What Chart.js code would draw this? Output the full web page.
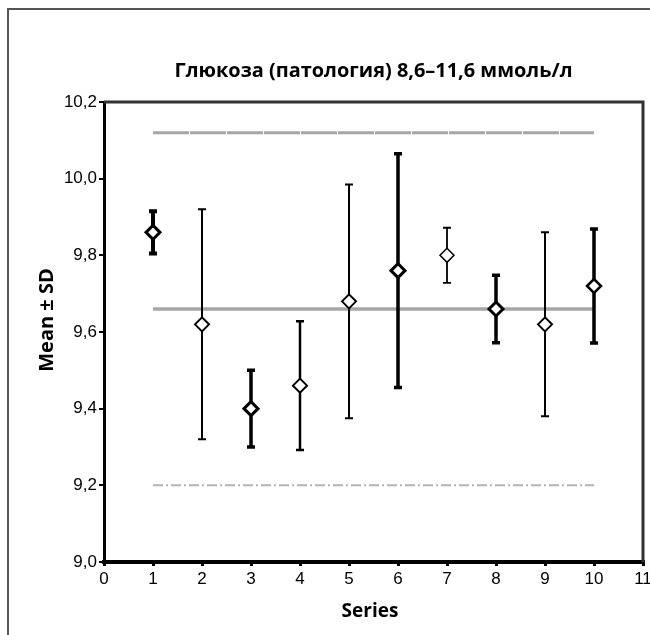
<!DOCTYPE html>
<html>
<head>
<meta charset="utf-8">
<script src="https://cdn.jsdelivr.net/npm/chart.js@4"></script>
<style>
  html, body { margin: 0; padding: 0; background: #fff; overflow: hidden; }
  #wrap { width: 650px; height: 635px; overflow: hidden; }
</style>
</head>
<body>
<div id="wrap"><canvas id="chart" width="700" height="700"></canvas></div>
<script>
// данные
const series = [1, 2, 3, 4, 5, 6, 7, 8, 9, 10];
const means = [9.86, 9.62, 9.40, 9.46, 9.68, 9.76, 9.80, 9.66, 9.62, 9.72];
const sds = [0.055, 0.30, 0.10, 0.168, 0.305, 0.305, 0.072, 0.088, 0.24, 0.149];
const refRange = [1, 10];
const refMean = 9.66;
const refUpper = 10.12;
const refLower = 9.2;
const yTicks = [9.0, 9.2, 9.4, 9.6, 9.8, 10.0, 10.2];

// стили отдельно от данных
const barWidths = [4, 2, 3.5, 2.5, 2, 3.5, 1.8, 3.5, 2, 3.5];
const markerBorders = [3, 2, 3, 2, 2, 3, 1.5, 3, 2, 2.5];

const fmt = v => v.toFixed(1).replace('.', ',');

function refLine(y) {
  return refRange.map(x => ({ x: x, y: y }));
}

// усы ±SD под маркерами
const errorBars = {
  id: 'errorBars',
  beforeDatasetDraw(chart, args) {
    if (args.index !== 0) return;
    const ctx = chart.ctx;
    const xs = chart.scales.x, ys = chart.scales.y;
    ctx.save();
    ctx.strokeStyle = '#000';
    series.forEach((s, i) => {
      const px = xs.getPixelForValue(s);
      const top = ys.getPixelForValue(means[i] + sds[i]);
      const bot = ys.getPixelForValue(means[i] - sds[i]);
      ctx.lineWidth = barWidths[i];
      ctx.beginPath();
      ctx.moveTo(px, top); ctx.lineTo(px, bot);
      ctx.moveTo(px - 4, top); ctx.lineTo(px + 4, top);
      ctx.moveTo(px - 4, bot); ctx.lineTo(px + 4, bot);
      ctx.stroke();
    });
    ctx.restore();
  }
};

// рамка, верх/правая граница области и подписи
const decor = {
  id: 'decor',
  beforeDraw(chart) {
    const ctx = chart.ctx;
    ctx.save();
    ctx.strokeStyle = '#555';
    ctx.lineWidth = 2;
    ctx.strokeRect(8, 9, 800, 800);
    ctx.restore();
  },
  afterDraw(chart) {
    const ctx = chart.ctx;
    const a = chart.chartArea;
    ctx.save();
    ctx.strokeStyle = '#333';
    ctx.lineWidth = 3;
    ctx.beginPath();
    ctx.moveTo(a.left, a.top); ctx.lineTo(a.right + 1.5, a.top);
    ctx.moveTo(a.right, a.top); ctx.lineTo(a.right, a.bottom);
    ctx.stroke();

    ctx.fillStyle = '#000';
    ctx.textBaseline = 'alphabetic';
    ctx.textAlign = 'center';
    const cx = (a.left + a.right) / 2;

    // заголовок
    const title = 'Глюкоза (патология) 8,6–11,6 ммоль/л';
    ctx.font = 'bold 20px "Open Sans"';
    const w = ctx.measureText(title).width;
    ctx.save();
    ctx.translate(cx, 77);
    ctx.scale(Math.min(1, 398 / w), 1);
    ctx.fillText(title, 0, 0);
    ctx.restore();

    ctx.font = 'bold 19px "Open Sans"';
    ctx.fillText('Series', 370, 617);

    ctx.save();
    ctx.font = 'bold 20px "Open Sans"';
    ctx.translate(53, 320);
    ctx.rotate(-Math.PI / 2);
    ctx.fillText('Mean ± SD', 0, 0);
    ctx.restore();
    ctx.restore();
  }
};

new Chart(document.getElementById('chart'), {
  type: 'scatter',
  data: {
    datasets: [
      {
        label: 'Mean',
        data: series.map((s, i) => ({ x: s, y: means[i] })),
        pointStyle: 'rectRot',
        pointRadius: 7,
        pointBackgroundColor: '#fff',
        pointBorderColor: '#000',
        pointBorderWidth: markerBorders
      },
      {
        type: 'line',
        label: 'upper',
        data: refLine(refUpper),
        borderColor: '#a6a6a6',
        borderWidth: 3,
        borderDash: [36, 1],
        pointRadius: 0
      },
      {
        type: 'line',
        label: 'mean',
        data: refLine(refMean),
        borderColor: '#a6a6a6',
        borderWidth: 3.5,
        pointRadius: 0
      },
      {
        type: 'line',
        label: 'lower',
        data: refLine(refLower),
        borderColor: '#b4b4b4',
        borderWidth: 2,
        borderDash: [10, 3, 2, 3],
        pointRadius: 0
      }
    ]
  },
  options: {
    responsive: false,
    animation: false,
    devicePixelRatio: 1,
    layout: { padding: { top: 102, right: 57, bottom: 0, left: 0 } },
    plugins: { legend: { display: false }, tooltip: { enabled: false } },
    scales: {
      x: {
        type: 'linear',
        min: 0, max: 11,
        ticks: { stepSize: 1, color: '#000', padding: 3, font: { family: '"Liberation Sans"', size: 17 } },
        grid: { drawOnChartArea: false, drawTicks: true, tickLength: 4, color: '#000', lineWidth: 3 },
        border: { color: '#000', width: 4 },
        afterFit(scale) { scale.height = 138; }
      },
      y: {
        type: 'linear',
        min: 9.0, max: 10.2,
        afterBuildTicks(scale) { scale.ticks = yTicks.map(v => ({ value: v })); },
        ticks: { color: '#000', padding: 2, font: { family: '"Liberation Sans"', size: 17 }, callback: v => fmt(v) },
        grid: { drawOnChartArea: false, drawTicks: true, tickLength: 5, color: '#000', lineWidth: 2 },
        border: { color: '#000', width: 3 },
        afterFit(scale) { scale.width = 104; }
      }
    }
  },
  plugins: [errorBars, decor]
});
</script>
</body>
</html>
